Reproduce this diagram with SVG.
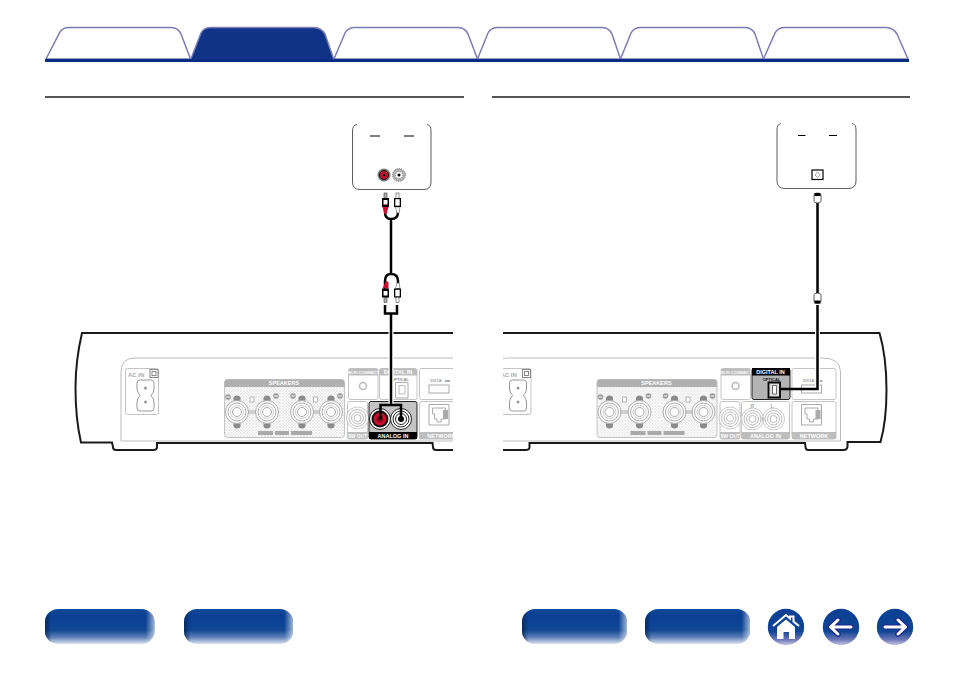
<svg xmlns="http://www.w3.org/2000/svg" xmlns:xlink="http://www.w3.org/1999/xlink" width="954" height="673" viewBox="0 0 954 673">
<style>
text{font-family:"Liberation Sans",Arial,sans-serif;font-weight:bold}
.tab{fill:#fff;stroke:#7b7bb5;stroke-width:1.5}
.tabon{fill:#0f3386;stroke:#7b7bb5;stroke-width:1.5}
.rule{stroke:#555;stroke-width:2;fill:none}
.body{fill:#fff;stroke:#1a1a1a;stroke-width:2}
.panel{fill:none;stroke:#bbb;stroke-width:1}
.box{fill:#fff;stroke:#c4c4c4;stroke-width:1}
.hd{fill:#bdbdbd}
.ht{fill:#fff;font-size:5.500px;text-anchor:middle}
.gt{fill:#aaa;font-size:6px}
.dk{fill:#444;font-size:4px;text-anchor:middle}
.ln{fill:none;stroke:#aaa;stroke-width:1}
.cable{fill:none;stroke:#000;stroke-width:2.500}
.halo{fill:none;stroke:#fff;stroke-width:5}
.hl{fill:#c4c4c4;stroke:#222;stroke-width:1}
.rem{fill:#fff;stroke:#333;stroke-width:.8}
.dash{stroke:#000;stroke-width:1}
.btn{fill:url(#bv)}
.edge{fill:url(#bh)}
</style>
<defs>
<pattern id="dots" width="3" height="3" patternUnits="userSpaceOnUse"><rect width="3" height="3" fill="#fff"/><circle cx="1" cy="1" r=".8" fill="#cfcfcf"/><circle cx="2.500" cy="2.500" r=".5" fill="#dcdcdc"/></pattern>
<linearGradient id="bv" x1="0" y1="0" x2="0" y2="1"><stop offset="0" stop-color="#104a98"/><stop offset=".2" stop-color="#0a3f94"/><stop offset=".6" stop-color="#104795"/><stop offset=".8" stop-color="#5a7db5"/><stop offset="1" stop-color="#dbe3ef"/></linearGradient>
<linearGradient id="bh" x1="0" y1="0" x2="1" y2="0"><stop offset="0" stop-color="#05234f" stop-opacity=".75"/><stop offset=".06" stop-color="#05234f" stop-opacity="0"/><stop offset=".92" stop-color="#fff" stop-opacity="0"/><stop offset="1" stop-color="#fff" stop-opacity=".6"/></linearGradient>
<linearGradient id="cv" x1="0" y1="0" x2="0" y2="1"><stop offset="0" stop-color="#0a3f94"/><stop offset=".62" stop-color="#0f4595"/><stop offset=".85" stop-color="#6f78b8"/><stop offset="1" stop-color="#c9c9e4"/></linearGradient>
<clipPath id="cl"><rect x="60" y="320" width="393" height="140"/></clipPath>
<clipPath id="cr"><rect x="503" y="320" width="400" height="140"/></clipPath>
<g id="term"><circle cy="-13" r="3.600" fill="#8a8a8a"/><circle cy="13" r="3.600" fill="#8a8a8a"/><circle r="11.500" fill="#fff" stroke="#aaa"/><circle r="9" fill="none" stroke="#aaa"/><circle r="6.500" fill="none" stroke="#ccc"/><circle r="4.500" fill="none" stroke="#aaa"/></g>
<g id="jack"><circle r="11" fill="#fff" stroke="#bbb" stroke-width=".8"/><circle r="8.500" fill="none" stroke="#bbb" stroke-width="1"/><circle r="6" fill="none" stroke="#bbb" stroke-width="1"/><circle r="3.500" fill="none" stroke="#bbb" stroke-width="1"/></g>
<g id="sign"><circle r="2.800" fill="#999"/><rect x="-1.800" y="-.5" width="3.600" height="1" fill="#fff"/></g>
<g id="plugr"><rect x="-1.500" y="-5" width="3" height="6" fill="#aaa" stroke="#444" stroke-width=".6"/><rect x="-3.500" y="0" width="7" height="9" fill="#000"/><rect x="-2" y="2" width="4" height="4.500" fill="#fff"/></g>
<g id="plugw"><rect x="-1.500" y="-5" width="3" height="6" fill="#fff" stroke="#444" stroke-width=".6"/><rect x="-3.500" y="0" width="7" height="9" fill="#000"/><rect x="-2.200" y="1.200" width="4.400" height="6.500" fill="#fff"/></g>
<path id="net" d="M429 404.500H449V425H429ZM432.500 408V414H434.500V419H437V422H441V419H445.500V408Z" fill="#fff" stroke="#aaa"/>
</defs>
<g id="tabs">
<path class="tab" d="M46 59L60 32Q63 27.500 69 27.500H171Q178 27.500 181 34L190.500 59Z"/>
<path class="tabon" d="M190.500 60L201 33Q204 27.500 211 27.500H314Q321 27.500 325 34L334 60Z"/>
<path class="tab" d="M334 59L345 33Q348 27.500 355 27.500H458Q465 27.500 468 34L477.500 59Z"/>
<path class="tab" d="M477.500 59L488 33Q491 27.500 498 27.500H602Q609 27.500 612 34L620.500 59Z"/>
<path class="tab" d="M620.500 59L631 33Q634 27.500 641 27.500H745Q752 27.500 755 34L763.500 59Z"/>
<path class="tab" d="M763.500 59L775 33Q778 27.500 785 27.500H886Q893 27.500 897 34L908 59Z"/>
<rect x="45" y="59" width="864" height="3" fill="#0a2d82"/>
</g>
<path class="rule" d="M45 97H464M492 97H910"/>
<g id="rear-left" clip-path="url(#cl)">
<path class="body" d="M82 333H507C512 350 514 370 514 390C514 410 512 428 508 442H475V446Q475 450 471 450H436Q433 450 433 447L432.500 443H157V447Q157 450 153 450H116Q113 450 113 447L112 442.500H81C77 425 75.500 405 75.500 388C75.500 370 78 350 82 333Z"/>
<path class="panel" d="M121 441V372Q121 358 135 358H450Q468 358 468 372V441H121"/>
<g id="l-acin"><rect class="box" x="125.500" y="368.500" width="33" height="46" rx="2"/><text class="gt" x="128" y="377">AC IN</text><rect x="150" y="369.500" width="8" height="8" fill="none" stroke="#888"/><rect x="152" y="371.500" width="4" height="4" fill="none" stroke="#888"/><path d="M140 380H151Q154 380 154 383V389Q154 392 151 395.500Q154 399 154 402V408Q154 411 151 411H140Q137 411 137 408V402Q137 399 140 395.500Q137 392 137 389V383Q137 380 140 380Z" fill="#fff" stroke="#999"/><circle cx="145.500" cy="388" r="1.500" fill="#999"/><circle cx="145.500" cy="402" r="1.500" fill="#999"/></g>
<g id="l-speakers"><rect x="224.500" y="379.500" width="120" height="58" rx="3" fill="url(#dots)" stroke="#c4c4c4"/><path d="M224.500 387V382.500Q224.500 379.500 227.500 379.500H341.500Q344.500 379.500 344.500 382.500V387Z" fill="#b0b0b0"/><text class="ht" x="284" y="385.300">SPEAKERS</text><use xlink:href="#term" x="237" y="412"/><use xlink:href="#term" x="267" y="412"/><use xlink:href="#term" x="302" y="412"/><use xlink:href="#term" x="331" y="412"/><path class="ln" d="M248 411H256M248 413H256M313 411H320M313 413H320"/><use xlink:href="#sign" x="228" y="397"/><use xlink:href="#sign" x="276" y="396"/><use xlink:href="#sign" x="293" y="396"/><use xlink:href="#sign" x="340" y="396"/><rect x="250" y="397" width="4" height="5" fill="#fff" stroke="#999" stroke-width=".7"/><rect x="313.500" y="397" width="4" height="5" fill="#fff" stroke="#999" stroke-width=".7"/><rect x="258" y="431" width="15" height="4" fill="#aaa"/><rect x="275" y="431" width="14" height="4" fill="#aaa"/><rect x="291" y="431" width="21" height="4" fill="#aaa"/></g>
<g id="l-connect"><rect class="box" x="348.500" y="368.500" width="29.500" height="31" rx="2"/><path class="hd" d="M348.500 375.500V370.500Q348.500 368.500 350.500 368.500H376Q378 368.500 378 370.500V375.500Z"/><text class="ht" x="363.300" y="374" style="font-size:4.200px">Wi-Fi CONNECT</text><circle cx="363" cy="386" r="3.500" fill="none" stroke="#bbb" stroke-width="1.500"/></g>
<g id="l-digital"><rect class="box" x="379.500" y="368.500" width="37.500" height="31" rx="2"/><path class="hd" d="M379.500 375.500V370.500Q379.500 368.500 381.500 368.500H415Q417 368.500 417 370.500V375.500Z"/><text class="ht" x="398" y="374">DIGITAL IN</text><text class="dk" x="400" y="380.500" style="fill:#888">OPTICAL</text><path d="M395.500 382.500H408V398H395.500Z" fill="#fff" stroke="#aaa"/><path d="M399 385.500H405V394H399Z" fill="#fff" stroke="#bbb"/></g>
<g id="l-usb"><rect class="box" x="419.500" y="368.500" width="44" height="31" rx="2"/><text class="dk" x="436" y="382" style="fill:#999">5V/1A</text><rect x="445" y="380" width="5" height="2" fill="#aaa"/><rect x="429" y="385" width="20" height="8" fill="#fff" stroke="#aaa"/></g>
<g id="l-swout"><rect class="box" x="347.500" y="401.500" width="20" height="37.500" rx="2"/><use xlink:href="#jack" x="357.500" y="418"/><rect x="347.500" y="432" width="20" height="7" fill="#bdbdbd"/><text class="ht" x="357.500" y="437.500" style="font-size:4.800px">SW OUT</text></g>
<g id="l-analog"><rect class="hl" x="369" y="401.500" width="48" height="37.500" rx="2"/><circle cx="380" cy="419" r="10.500" fill="#fff" stroke="#222"/><circle cx="380" cy="419" r="8.500" fill="#111"/><circle cx="380" cy="419" r="6.500" fill="#c8102e"/><circle cx="380" cy="419" r="3" fill="#6a0a14"/><circle cx="401" cy="419" r="10.500" fill="#fff" stroke="#222"/><circle cx="401" cy="419" r="8" fill="none" stroke="#222"/><circle cx="401" cy="419" r="5.500" fill="none" stroke="#222"/><circle cx="401" cy="419" r="3" fill="#000"/><rect x="369" y="432" width="48" height="7" fill="#000"/><text class="ht" x="393" y="437.700">ANALOG IN</text></g>
<g id="l-network"><rect class="box" x="419.500" y="401.500" width="44" height="37.500" rx="2"/><use xlink:href="#net"/><rect x="443" y="410" width="5" height="9" fill="#aaa"/><rect x="419.500" y="432" width="44" height="7" fill="#bdbdbd"/><text class="ht" x="441.500" y="437.700">NETWORK</text></g>
</g>
<g id="rear-right" clip-path="url(#cr)"><g transform="translate(372.500 0)">
<path class="body" d="M82 333H507C512 350 514 370 514 390C514 410 512 428 508 442H475V446Q475 450 471 450H436Q433 450 433 447L432.500 443H157V447Q157 450 153 450H116Q113 450 113 447L112 442.500H81C77 425 75.500 405 75.500 388C75.500 370 78 350 82 333Z"/>
<path class="panel" d="M121 441V372Q121 358 135 358H450Q468 358 468 372V441H121"/>
<g id="r-acin"><rect class="box" x="125.500" y="368.500" width="33" height="46" rx="2"/><text class="gt" x="128" y="377">AC IN</text><rect x="150" y="369.500" width="8" height="8" fill="none" stroke="#888"/><rect x="152" y="371.500" width="4" height="4" fill="none" stroke="#888"/><path d="M140 380H151Q154 380 154 383V389Q154 392 151 395.500Q154 399 154 402V408Q154 411 151 411H140Q137 411 137 408V402Q137 399 140 395.500Q137 392 137 389V383Q137 380 140 380Z" fill="#fff" stroke="#999"/><circle cx="145.500" cy="388" r="1.500" fill="#999"/><circle cx="145.500" cy="402" r="1.500" fill="#999"/></g>
<g id="r-speakers"><rect x="224.500" y="379.500" width="120" height="58" rx="3" fill="url(#dots)" stroke="#c4c4c4"/><path d="M224.500 387V382.500Q224.500 379.500 227.500 379.500H341.500Q344.500 379.500 344.500 382.500V387Z" fill="#b0b0b0"/><text class="ht" x="284" y="385.300">SPEAKERS</text><use xlink:href="#term" x="237" y="412"/><use xlink:href="#term" x="267" y="412"/><use xlink:href="#term" x="302" y="412"/><use xlink:href="#term" x="331" y="412"/><path class="ln" d="M248 411H256M248 413H256M313 411H320M313 413H320"/><use xlink:href="#sign" x="228" y="397"/><use xlink:href="#sign" x="276" y="396"/><use xlink:href="#sign" x="293" y="396"/><use xlink:href="#sign" x="340" y="396"/><rect x="250" y="397" width="4" height="5" fill="#fff" stroke="#999" stroke-width=".7"/><rect x="313.500" y="397" width="4" height="5" fill="#fff" stroke="#999" stroke-width=".7"/><rect x="258" y="431" width="15" height="4" fill="#aaa"/><rect x="275" y="431" width="14" height="4" fill="#aaa"/><rect x="291" y="431" width="21" height="4" fill="#aaa"/></g>
<g id="r-connect"><rect class="box" x="348.500" y="368.500" width="29.500" height="31" rx="2"/><path class="hd" d="M348.500 375.500V370.500Q348.500 368.500 350.500 368.500H376Q378 368.500 378 370.500V375.500Z"/><text class="ht" x="363.300" y="374" style="font-size:4.200px">Wi-Fi CONNECT</text><circle cx="363" cy="386" r="3.500" fill="none" stroke="#bbb" stroke-width="1.500"/></g>
<g id="r-digital"><rect class="hl" x="379.500" y="368.500" width="38" height="31" rx="2" style="fill:#b4b4b4"/><rect x="379.500" y="368" width="38" height="7.500" fill="#000"/><text class="ht" x="398" y="374">DIGITAL IN</text><text class="dk" x="399" y="380.500" style="fill:#111">OPTICAL</text><path d="M396 382.500H407.500V397.500H396Z" fill="#ddd" stroke="#000" stroke-width="1.800"/><path d="M400 385.500H404V394H400Z" fill="#fff" stroke="#333" stroke-width=".7"/></g>
<g id="r-usb"><rect class="box" x="419.500" y="368.500" width="44" height="31" rx="2"/><text class="dk" x="436" y="382" style="fill:#999">5V/1A</text><rect x="445" y="380" width="5" height="2" fill="#aaa"/><rect x="429" y="385" width="20" height="8" fill="#fff" stroke="#aaa"/></g>
<g id="r-swout"><rect class="box" x="347.500" y="401.500" width="20" height="37.500" rx="2"/><use xlink:href="#jack" x="357.500" y="418"/><rect x="347.500" y="432" width="20" height="7" fill="#bdbdbd"/><text class="ht" x="357.500" y="437.500" style="font-size:4.800px">SW OUT</text></g>
<g id="r-analog"><rect class="box" x="369" y="401.500" width="48" height="37.500" rx="2"/><text class="gt" x="378" y="407.500" style="font-size:5px">R</text><text class="gt" x="398" y="407.500" style="font-size:5px">L</text><use xlink:href="#jack" x="380" y="419"/><use xlink:href="#jack" x="401" y="419"/><path class="ln" d="M389 418H392M389 420H392"/><rect x="369" y="432" width="48" height="7" fill="#bdbdbd"/><text class="ht" x="393" y="437.700">ANALOG IN</text></g>
<g id="r-network"><rect class="box" x="419.500" y="401.500" width="44" height="37.500" rx="2"/><use xlink:href="#net"/><rect x="443" y="410" width="5" height="9" fill="#aaa"/><rect x="419.500" y="432" width="44" height="7" fill="#bdbdbd"/><text class="ht" x="441.500" y="437.700">NETWORK</text></g>
</g></g>
<g id="remote-left">
<path class="rem" d="M357 124.500Q352.500 125 352.500 131V182Q352.500 189.500 360 189.500H424Q431 189.500 431 182V131Q431 125 427 124.500" fill="#fff"/>
<path class="dash" d="M370 136H380M404 136H414"/>
<circle cx="384" cy="175" r="6.500" fill="#777"/><circle cx="384" cy="175" r="4.500" fill="#c8102e" stroke="#111"/><circle cx="384" cy="175" r="1.300" fill="#000"/>
<circle cx="399" cy="175" r="6.500" fill="#b0b0b0" stroke="#777" stroke-dasharray="1 1"/><circle cx="399" cy="175" r="3.600" fill="#fff" stroke="#888" stroke-dasharray="1 1"/><circle cx="399" cy="175" r="1.500" fill="#000"/>
</g>
<g id="remote-right">
<path class="rem" d="M781 123.500Q777 124 777 130V181Q777 188.500 785 188.500H848Q856 188.500 856 181V130Q856 124 852 123.500" fill="#fff"/>
<path class="dash" d="M798 135.500H805.500M829 135.500H837"/>
<rect x="812" y="170" width="11" height="9.500" fill="#fff" stroke="#000" stroke-width="1.200"/><path d="M817.500 172L820 175L817.500 177.500L815 175Z" fill="#fff" stroke="#666" stroke-width=".6"/>
</g>
<g id="connectors">
<path class="halo" d="M391 322V404M817.500 320V388"/>
<path class="cable" d="M385 207V212Q385 219 391 219Q398 219 398 212V207M391 219V274M385 289V281Q385 274 391 274Q398 274 398 281V289M385 305V313.500H397V305M391 313.500V405M380.500 419V405H401V419"/>
<path d="M382.500 207H388.500L386.500 214H384.500ZM382.500 288.500H388.500V282L386 281Z" fill="#c8102e"/>
<path d="M395.500 207H400L399 213H397ZM395.500 288.500H400L399 283H397Z" fill="#fff" stroke="#555" stroke-width=".5"/>
<use xlink:href="#plugr" x="385.500" y="198"/><use xlink:href="#plugw" x="397.500" y="198"/>
<g transform="translate(385.500 306.500) scale(1 -1)"><use xlink:href="#plugr" y="9"/></g>
<g transform="translate(397.500 306.500) scale(1 -1)"><use xlink:href="#plugw" y="9"/></g>
<path class="cable" d="M817.500 200V294M817.500 305V389H780"/>
<path d="M814 195Q814 193 817.500 193Q821 193 821 195V201Q821 203 817.500 203Q814 203 814 201Z" fill="#fff" stroke="#333" stroke-width=".8"/><rect x="814.500" y="193" width="6" height="3" fill="#000"/>
<path d="M814 295Q814 293 817.500 293Q821 293 821 295V301Q821 303.500 817.500 303.500Q814 303.500 814 301Z" fill="#fff" stroke="#333" stroke-width=".8"/><rect x="814.500" y="300.500" width="6" height="3" fill="#000"/>
</g>
<g id="nav">
<g id="btn1"><rect class="btn" x="45" y="609" width="109.500" height="35" rx="13"/><rect class="edge" x="45" y="609" width="109.500" height="35" rx="13"/></g>
<g id="btn2"><rect class="btn" x="184" y="609" width="109" height="35" rx="13"/><rect class="edge" x="184" y="609" width="109" height="35" rx="13"/></g>
<g id="btn3"><rect class="btn" x="522" y="609" width="105" height="35" rx="13"/><rect class="edge" x="522" y="609" width="105" height="35" rx="13"/></g>
<g id="btn4"><rect class="btn" x="645" y="609" width="105" height="35" rx="13"/><rect class="edge" x="645" y="609" width="105" height="35" rx="13"/></g>
<g id="home"><circle cx="786" cy="627" r="18.200" fill="url(#cv)"/><path d="M773 626L786 615L790 618.500V616.500H793.500V621.500L799 626" fill="none" stroke="#fff" stroke-width="2"/><path d="M777 627L786 619.500L795 627V639H789V632H783.500V639H777Z" fill="#fff"/></g>
<g id="back"><circle cx="841" cy="627" r="18.200" fill="url(#cv)"/><path d="M851 627H832M838 620L830.500 627L838 634" fill="none" stroke="#1c2a8c" stroke-width="5.500" stroke-linecap="round" stroke-linejoin="round"/><path d="M851 627H832M838 620L830.500 627L838 634" fill="none" stroke="#fff" stroke-width="3" stroke-linecap="round" stroke-linejoin="round"/></g>
<g id="forward"><circle cx="895" cy="627" r="18.200" fill="url(#cv)"/><path d="M885 627H904M898 620L905.500 627L898 634" fill="none" stroke="#1c2a8c" stroke-width="5.500" stroke-linecap="round" stroke-linejoin="round"/><path d="M885 627H904M898 620L905.500 627L898 634" fill="none" stroke="#fff" stroke-width="3" stroke-linecap="round" stroke-linejoin="round"/></g>
</g>
</svg>
